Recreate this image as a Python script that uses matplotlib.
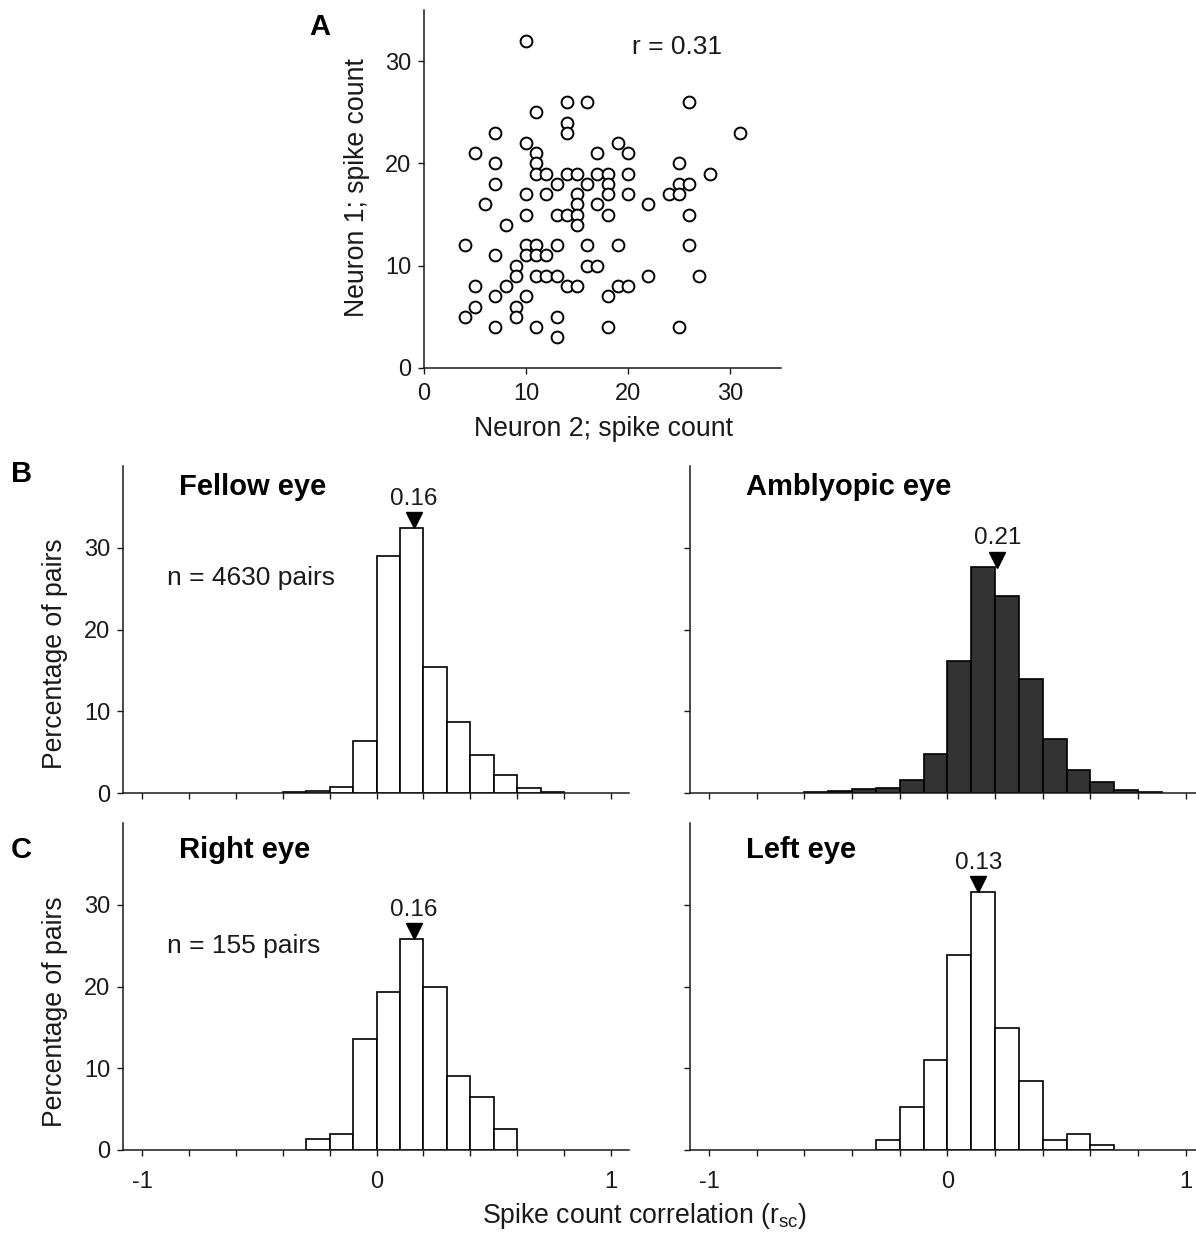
import numpy as np
import matplotlib
matplotlib.use("Agg")
import matplotlib.pyplot as plt
from matplotlib.transforms import offset_copy

plt.rcParams['font.family'] = ['Liberation Sans', 'DejaVu Sans']
plt.rcParams['mathtext.fontset'] = 'custom'
plt.rcParams['mathtext.rm'] = 'Liberation Sans'
plt.rcParams['mathtext.it'] = 'Liberation Sans'

# panel A: spike counts of a pair of neurons
neuron2 = [10, 14, 16, 26, 11, 14, 14, 7, 31, 10, 19, 5, 11, 17, 20, 7, 11, 25,
           11, 12, 14, 15, 17, 18, 20, 28, 7, 13, 16, 18, 25, 26, 10, 12, 15, 18,
           20, 24, 25, 6, 15, 17, 22, 10, 13, 14, 15, 18, 26, 8, 15, 4, 10, 11,
           13, 16, 19, 26, 7, 10, 11, 12, 9, 16, 17, 9, 11, 12, 13, 22, 27, 5,
           8, 14, 15, 19, 20, 7, 10, 18, 5, 9, 4, 9, 13, 7, 11, 18, 25, 13]
neuron1 = [32, 26, 26, 26, 25, 24, 23, 23, 23, 22, 22, 21, 21, 21, 21, 20, 20, 20,
           19, 19, 19, 19, 19, 19, 19, 19, 18, 18, 18, 18, 18, 18, 17, 17, 17, 17,
           17, 17, 17, 16, 16, 16, 16, 15, 15, 15, 15, 15, 15, 14, 14, 12, 12, 12,
           12, 12, 12, 12, 11, 11, 11, 11, 10, 10, 10, 9, 9, 9, 9, 9, 9, 8,
           8, 8, 8, 8, 8, 7, 7, 7, 6, 6, 5, 5, 5, 4, 4, 4, 4, 3]
r_text = "r = 0.31"

# panels B/C: histograms of r_sc (percentage of pairs, bins of 0.1)
bin_width = 0.1
fellow_start = -0.4
fellow_pct = [0.12, 0.2, 0.73, 6.3, 29.0, 32.4, 15.4, 8.7, 4.7, 2.16, 0.6, 0.12]
amblyopic_start = -0.6
amblyopic_pct = [0.12, 0.2, 0.5, 0.6, 1.55, 4.8, 16.1, 27.6, 24.1, 14.0, 6.6,
                 2.85, 1.35, 0.4, 0.12]
right_start = -0.3
right_pct = [1.29, 1.94, 13.55, 19.35, 25.81, 20.0, 9.03, 6.45, 2.58]
left_start = -0.3
left_pct = [1.22, 5.2, 11.0, 23.9, 31.6, 14.9, 8.4, 1.22, 1.96, 0.57]

medians = {'Fellow eye': 0.16, 'Amblyopic eye': 0.21, 'Right eye': 0.16, 'Left eye': 0.13}

W, H = 1196, 1233
fig = plt.figure(figsize=(W / 100, H / 100), dpi=100)

def fx(px):
    return px / W

def fy(py):
    return 1 - py / H

ink = '#1a1a1a'
tick_kw = dict(direction='out', length=4, width=1, colors=ink, labelsize=17, pad=5)

def style(ax):
    for s in ['top', 'right']:
        ax.spines[s].set_visible(False)
    for s in ['left', 'bottom']:
        ax.spines[s].set_linewidth(1.1)
        ax.spines[s].set_color(ink)
    ax.tick_params(**tick_kw)

# ---- A: scatter
axA = fig.add_axes([fx(424), fy(368), fx(781) - fx(424), fy(10) - fy(368)])
style(axA)
axA.tick_params(axis='x', pad=7)
axA.plot(neuron2, neuron1, 'o', ms=8.5, mfc='white', mec='black', mew=1.4, ls='none', clip_on=False)
axA.set_xlim(0, 35)
axA.set_ylim(0, 35)
axA.set_xticks([0, 10, 20, 30])
axA.set_yticks([0, 10, 20, 30])
fig.text(fx(632), fy(54), r_text, fontsize=19, ha='left', va='baseline', color=ink)
fig.text(fx(604), fy(429), 'Neuron 2; spike count', fontsize=19.2, ha='center', va='center', color=ink)
fig.text(fx(357), fy(188), 'Neuron 1; spike count', fontsize=19.2, ha='center', va='center',
         rotation=90, color=ink)

# ---- B / C: histograms
def hist_panel(rect, xlim, start, pct, name, color, show_ylabels, show_xlabels):
    ax = fig.add_axes(rect)
    style(ax)
    lefts = start + bin_width * np.arange(len(pct))
    ax.bar(lefts, pct, width=bin_width, align='edge', color=color,
           edgecolor='black', linewidth=1.2, zorder=2)
    ax.set_xlim(*xlim)
    ax.set_ylim(0, 40)
    ax.set_yticks([0, 10, 20, 30])
    ax.set_xticks(np.round(np.arange(-1, 1.01, 0.2), 1))
    if show_xlabels:
        ax.set_xticklabels(['-1', '', '', '', '', '0', '', '', '', '', '1'])
        ax.tick_params(axis='x', pad=11)
    else:
        ax.set_xticklabels([])
    if not show_ylabels:
        ax.set_yticklabels([])
    m = medians[name]
    top = max(pct)
    ms = 11
    tr = offset_copy(ax.transData, fig=fig, x=0, y=ms / 2, units='points')
    ax.plot([m], [top], marker='v', ms=ms, color='black', transform=tr, clip_on=False, zorder=3)
    ax.annotate('%.2f' % m, (m, top), xytext=(0, 16.5), textcoords='offset points',
                ha='center', va='baseline', fontsize=17.5, color=ink)
    return ax

yB_bot, yB_top = 793, 466
yC_bot, yC_top = 1150, 823
xl0, xl1 = 123, 629
xr0, xr1 = 690, 1196
xlim_l = (-1.082, 1.077)
xlim_r = (-1.080, 1.043)

hist_panel([fx(xl0), fy(yB_bot), fx(xl1) - fx(xl0), fy(yB_top) - fy(yB_bot)], xlim_l,
           fellow_start, fellow_pct, 'Fellow eye', 'white', True, False)
hist_panel([fx(xr0), fy(yB_bot), fx(xr1) - fx(xr0), fy(yB_top) - fy(yB_bot)], xlim_r,
           amblyopic_start, amblyopic_pct, 'Amblyopic eye', '#333333', False, False)
hist_panel([fx(xl0), fy(yC_bot), fx(xl1) - fx(xl0), fy(yC_top) - fy(yC_bot)], xlim_l,
           right_start, right_pct, 'Right eye', 'white', True, True)
hist_panel([fx(xr0), fy(yC_bot), fx(xr1) - fx(xr0), fy(yC_top) - fy(yC_bot)], xlim_r,
           left_start, left_pct, 'Left eye', 'white', False, True)

title_kw = dict(fontsize=21, fontweight='bold', ha='left', va='baseline', color='black')
fig.text(fx(179), fy(495), 'Fellow eye', **title_kw)
fig.text(fx(746), fy(495), 'Amblyopic eye', **title_kw)
fig.text(fx(179), fy(858), 'Right eye', **title_kw)
fig.text(fx(746), fy(858), 'Left eye', **title_kw)

fig.text(fx(167), fy(585), 'n = 4630 pairs', fontsize=19, ha='left', va='baseline', color=ink)
fig.text(fx(167), fy(953), 'n = 155 pairs', fontsize=19, ha='left', va='baseline', color=ink)

fig.text(fx(55), fy(654), 'Percentage of pairs', fontsize=19.2, rotation=90,
         ha='center', va='center', color=ink)
fig.text(fx(55), fy(1012), 'Percentage of pairs', fontsize=19.2, rotation=90,
         ha='center', va='center', color=ink)
fig.text(fx(644), fy(1223), r'Spike count correlation (r$_{\mathrm{sc}}$)', fontsize=19.2,
         ha='center', va='baseline', color=ink)

letter_kw = dict(fontsize=21, fontweight='bold', ha='center', va='baseline', color='black')
fig.text(fx(320), fy(35), 'A', **letter_kw)
fig.text(fx(22), fy(482), 'B', **letter_kw)
fig.text(fx(21), fy(858), 'C', **letter_kw)

fig.savefig('out.png', dpi=100)
